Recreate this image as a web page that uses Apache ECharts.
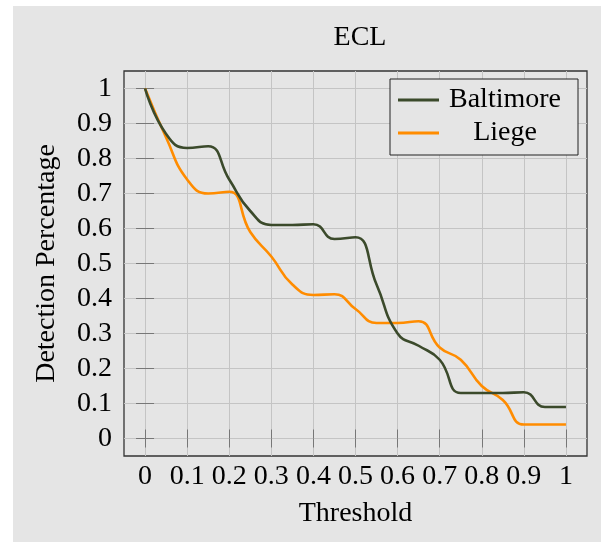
<!DOCTYPE html>
<html>
<head>
<meta charset="utf-8">
<script src="https://cdn.jsdelivr.net/npm/echarts@6/dist/echarts.min.js"></script>
<style>
html,body{margin:0;padding:0;background:#ffffff;}
#chart{width:601px;height:542px;}
</style>
</head>
<body>
<div id="chart"></div>
<script>
// ---- data ----
const thresholds = [0, 0.05, 0.1, 0.15, 0.2, 0.25, 0.3, 0.35, 0.4, 0.45, 0.5, 0.55, 0.6, 0.65, 0.7, 0.75, 0.8, 0.85, 0.9, 0.95, 1];
const baltimore = [1.0, 0.87, 0.83, 0.835, 0.74, 0.65, 0.61, 0.61, 0.612, 0.57, 0.575, 0.44, 0.30, 0.265, 0.225, 0.13, 0.13, 0.13, 0.132, 0.09, 0.09];
const liege = [1.0, 0.86, 0.74, 0.70, 0.705, 0.59, 0.52, 0.44, 0.41, 0.412, 0.37, 0.33, 0.33, 0.335, 0.26, 0.225, 0.15, 0.11, 0.04, 0.04, 0.04];
const xTicks = [0, 0.1, 0.2, 0.3, 0.4, 0.5, 0.6, 0.7, 0.8, 0.9, 1];
const yTicks = [0, 0.1, 0.2, 0.3, 0.4, 0.5, 0.6, 0.7, 0.8, 0.9, 1];
const seriesNames = ['Baltimore', 'Liege'];
const titleText = 'ECL';
const xName = 'Threshold';
const yName = 'Detection Percentage';

const FONT = 'Liberation Serif';
const FS = 28;
const fmt = v => String(+(+v).toFixed(2));
const pairs = (xs, ys) => xs.map((x, i) => [x, ys[i]]);

const tickStyle = {show: true, inside: true, length: 9, lineStyle: {color: '#777', width: 1}};
const gridLine = {show: true, lineStyle: {color: '#c4c4c4', width: 1}};

const chart = echarts.init(document.getElementById('chart'), null, {renderer: 'canvas'});
chart.setOption({
  backgroundColor: '#ffffff',
  animation: false,
  graphic: [{
    type: 'rect', z: -100, silent: true,
    shape: {x: 13, y: 6, width: 588, height: 536},
    style: {fill: '#e5e5e5'}
  }],
  title: {
    text: titleText, left: 355, top: 19, textAlign: 'center',
    textStyle: {fontFamily: FONT, fontSize: FS, fontWeight: 'normal', color: '#000'}
  },
  grid: {
    left: 124, top: 71, width: 463, height: 385,
    show: true, borderColor: '#333', borderWidth: 1.3, backgroundColor: 'transparent'
  },
  legend: {
    orient: 'vertical', left: 390, top: 79,
    backgroundColor: '#e5e5e5', borderColor: '#222', borderWidth: 1,
    padding: [7, 12, 8, 8], itemGap: 5, itemWidth: 41, itemHeight: 3, icon: 'rect',
    formatter: '{c|{name}}',
    textStyle: {rich: {c: {width: 122, align: 'center', fontSize: FS, lineHeight: 32, fontFamily: FONT, color: '#000'}}},
    data: seriesNames
  },
  xAxis: [{
    type: 'value', min: -0.05, max: 1.05, position: 'bottom',
    name: xName, nameLocation: 'middle', nameGap: 44,
    nameTextStyle: {fontFamily: FONT, fontSize: FS, color: '#000'},
    axisLine: {show: false},
    axisTick: Object.assign({customValues: xTicks}, tickStyle),
    axisLabel: {customValues: xTicks, formatter: fmt, margin: 7, fontFamily: FONT, fontSize: FS, color: '#000'},
    splitLine: gridLine
  }, {
    type: 'value', min: -0.05, max: 1.05, position: 'top',
    axisLine: {show: false},
    axisTick: Object.assign({customValues: xTicks}, tickStyle),
    axisLabel: {show: false},
    splitLine: {show: false}
  }],
  yAxis: [{
    type: 'value', min: -0.05, max: 1.05, position: 'left',
    name: yName, nameLocation: 'middle', nameGap: 63, nameRotate: 90,
    nameTextStyle: {fontFamily: FONT, fontSize: FS, color: '#000'},
    axisLine: {show: false},
    axisTick: Object.assign({customValues: yTicks}, tickStyle),
    axisLabel: {customValues: yTicks, formatter: fmt, margin: 12, fontFamily: FONT, fontSize: FS, color: '#000'},
    splitLine: gridLine
  }, {
    type: 'value', min: -0.05, max: 1.05, position: 'right',
    axisLine: {show: false},
    axisTick: Object.assign({customValues: yTicks}, tickStyle),
    axisLabel: {show: false},
    splitLine: {show: false}
  }],
  series: [{
    name: seriesNames[0], type: 'line', smooth: 0.5, symbol: 'none',
    color: '#3b4a2b', lineStyle: {color: '#3b4a2b', width: 2.6},
    data: pairs(thresholds, baltimore), z: 3
  }, {
    name: seriesNames[1], type: 'line', smooth: 0.5, symbol: 'none',
    color: '#ff8c00', lineStyle: {color: '#ff8c00', width: 2.6},
    data: pairs(thresholds, liege), z: 2
  }]
});
</script>
</body>
</html>
